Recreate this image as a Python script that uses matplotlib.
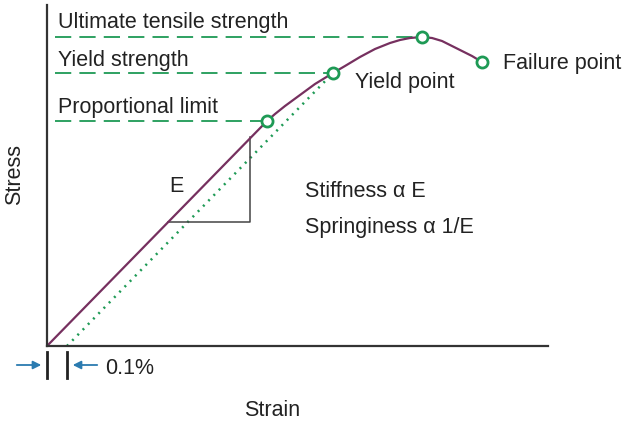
import matplotlib
matplotlib.use("Agg")
import matplotlib.pyplot as plt

plt.rcParams["font.family"] = ["Liberation Sans", "DejaVu Sans"]

# stress-strain curve (arbitrary units)
strain = [0, 220, 228, 238, 253, 268, 286, 298, 313, 328, 343, 353, 363,
          375, 385, 395, 405, 415, 425, 435]
stress = [0, 225, 232, 240, 251, 262, 273, 280, 289, 297, 303, 306, 308,
          309, 308, 305, 300, 295, 290, 284]

# marked points: proportional limit, yield, ultimate, failure
pt_strain = [220, 286, 375, 435]
pt_stress = [225, 273, 309, 284]

# 0.1% offset line (parallel to elastic part) ending at yield
offset_strain = [20, 286]
offset_stress = [0, 273]

# slope triangle
tri_strain = [121, 203, 203]
tri_stress = [124, 124, 209]

level_labels = ["Ultimate tensile strength", "Yield strength", "Proportional limit"]
level_stress = [309, 273, 225]
level_end = [375, 286, 220]

PURPLE = "#76305f"
GREEN = "#1e9a55"
BLUE = "#2b7bb0"
TXT = "#222222"

fig = plt.figure(figsize=(6.23, 4.21), dpi=100)
ax = fig.add_axes([47 / 623, 75 / 421, 501 / 623, 341 / 421])
ax.set_xlim(0, 501)
ax.set_ylim(0, 341)
for s in ("top", "right"):
    ax.spines[s].set_visible(False)
for s in ("left", "bottom"):
    ax.spines[s].set_linewidth(1.6)
    ax.spines[s].set_color("#333333")
ax.set_xticks([])
ax.set_yticks([])

# dashed reference levels
for lab, y, xe in zip(level_labels, level_stress, level_end):
    ax.plot([8, xe], [y, y], color=GREEN, lw=1.3, dashes=(9, 4.5))

ax.plot(offset_strain, offset_stress, color=GREEN, lw=1.8, ls=(0, (0.8, 2.2)))
ax.plot(tri_strain, tri_stress, color="#444444", lw=1.1)
ax.plot(strain, stress, color=PURPLE, lw=1.6, solid_joinstyle="round")
ax.plot(pt_strain, pt_stress, "o", ms=8, mfc="white", mec=GREEN, mew=2)

fs = 15.5
text_y = [318, 280, 233]
for lab, ty in zip(level_labels, text_y):
    ax.text(11, ty, lab, fontsize=fs, color=TXT)
ax.text(308, 258, "Yield point", fontsize=fs, color=TXT)
ax.text(456, 277, "Failure point", fontsize=fs, color=TXT, clip_on=False)
ax.text(122, 154, "E", fontsize=fs, color=TXT)
ax.text(258, 149, "Stiffness α E", fontsize=fs, color=TXT)
ax.text(258, 113, "Springiness α 1/E", fontsize=fs, color=TXT)
ax.text(-32, 171, "Stress", fontsize=fs, color=TXT, rotation=90,
        ha="center", va="center", clip_on=False)
ax.text(225, -70, "Strain", fontsize=fs, color=TXT, ha="center", clip_on=False)
ax.text(58, -23, "0.1%", fontsize=fs, color=TXT, va="center", clip_on=False)

# 0.1% offset marker
for x in (0, 20):
    ax.plot([x, x], [-6, -32], color="#222222", lw=2, clip_on=False)
ax.annotate("", xy=(-3, -19), xytext=(-33, -19), annotation_clip=False,
            arrowprops=dict(arrowstyle="-|>", color=BLUE, lw=1.3, mutation_scale=12))
ax.annotate("", xy=(23, -19), xytext=(53, -19), annotation_clip=False,
            arrowprops=dict(arrowstyle="-|>", color=BLUE, lw=1.3, mutation_scale=12))

fig.savefig("out.png", dpi=100)
